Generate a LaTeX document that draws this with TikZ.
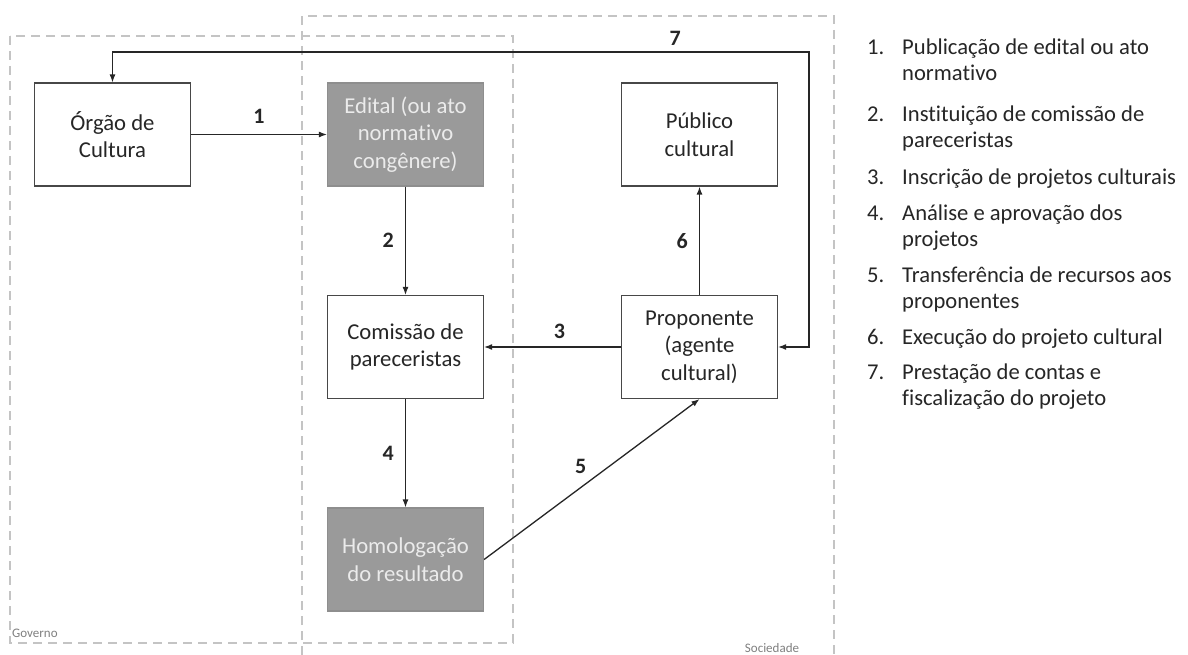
\documentclass[tikz,border=0pt]{standalone}
\usepackage{fontspec}
\setmainfont[Ligatures=NoCommon]{Carlito}
\usetikzlibrary{arrows.meta}

\definecolor{ink}{RGB}{38,38,38}
\definecolor{boxgray}{RGB}{154,154,154}
\definecolor{regiongray}{RGB}{196,196,196}

\tikzset{
    stage/.style={draw=ink!85, line width=1.2pt, minimum width=156pt, minimum height=103pt,
        inner sep=0pt, align=center, text=ink, font=\fontsize{22.7}{27.5}\selectfont},
    filled/.style={stage, fill=boxgray, draw=boxgray!92!black, text=white!92!black},
    region/.style={draw=regiongray, line width=1.8pt, dash pattern=on 9pt off 6pt},
    regionlabel/.style={text=black!50, font=\fontsize{13}{15}\selectfont, inner sep=1pt},
    flow/.style={draw=ink, line width=1.3pt, -{Latex[length=8pt,width=6pt]}},
    numlabel/.style={text=ink, font=\fontsize{22}{25}\selectfont\bfseries, inner sep=1pt},
    legend/.style={text=ink, font=\fontsize{22.6}{26}\selectfont, inner sep=0pt, align=left, anchor=base west}
}

\begin{document}
\begin{tikzpicture}[x=1pt, y=-1pt]
    \useasboundingbox[fill=white] (0,0) rectangle (1188,655);

    % Governo / Sociedade
    \draw[region] (10,36) rectangle (513,643);
    \draw[region] (302,670) |- (834,16) -- (834,670);
    \node[regionlabel, anchor=west] (governo) at (11,633) {Governo};
    \node[regionlabel] (sociedade) at (772,648) {Sociedade};

    % Boxes
    \node[stage] (orgao) at (112.5,134.5) {Órgão de\\Cultura};
    \node[filled] (edital) at (405.5,134.5) {Edital (ou ato\\normativo\\congênere)};
    \node[stage] (publico) at (699.5,134.5) {Público\\cultural};
    \node[stage] (comissao) at (405.5,347) {Comissão de\\pareceristas};
    \node[stage] (proponente) at (699.5,347) {Proponente\\(agente\\cultural)};
    \node[filled] (homologacao) at (405.5,559.5) {Homologação\\do resultado};

    % Steps
    \draw[flow] (orgao) -- node[numlabel, above=9pt] {1} (edital);
    \draw[flow] (edital) -- node[numlabel, left=10pt] {2} (comissao);
    \draw[flow] (proponente) -- node[numlabel, above=7pt, pos=0.45] {3} (comissao);
    \draw[flow] (comissao) -- node[numlabel, left=10pt] {4} (homologacao);
    \draw[flow] (homologacao.east) -- node[numlabel, above left=4pt] {5} (proponente.south);
    \draw[flow] (proponente) -- node[numlabel, left=10pt] {6} (publico);
    \coordinate (turn7) at (809,52);
    \draw[flow, {Latex[length=8pt,width=6pt]}-{Latex[length=8pt,width=6pt]}]
        (orgao.north) |- node[numlabel, above=5pt, pos=0.904] {7} (turn7) |- (proponente.east);

    % Legend (base of a wrapped item sits on its last line)
    \foreach \num/\y/\ly/\txt in {1/55/81/{Publicação de edital ou ato\\normativo},
                              2/122/148/{Instituição de comissão de\\pareceristas},
                              3/185/185/{Inscrição de projetos culturais},
                              4/220/246/{Análise e aprovação dos\\projetos},
                              5/282/308/{Transferência de recursos aos\\proponentes},
                              6/344/344/{Execução do projeto cultural},
                              7/379/405/{Prestação de contas e\\fiscalização do projeto}} {
        \node[legend] (num\num) at (867,\y) {\num.};
        \node[legend] (item\num) at (902,\ly) {\txt};
    }
\end{tikzpicture}
\end{document}
